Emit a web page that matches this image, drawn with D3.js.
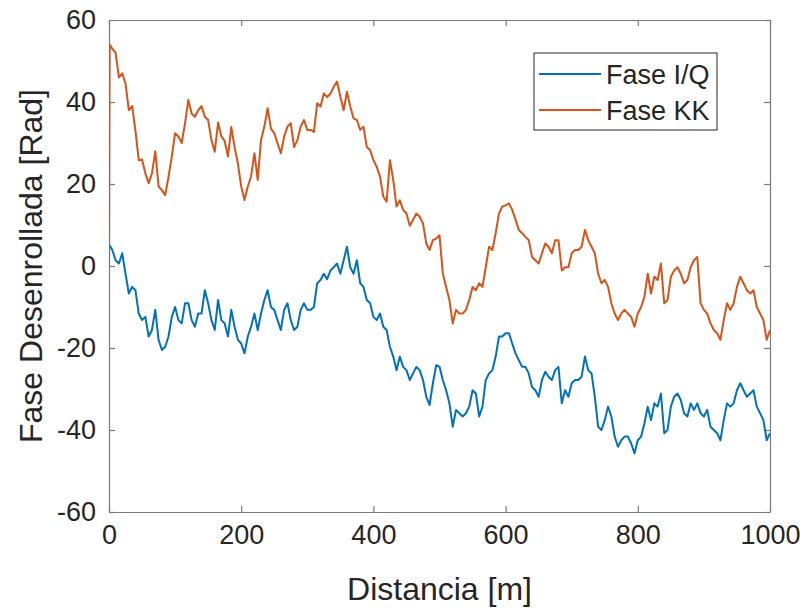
<!DOCTYPE html>
<html>
<head>
<meta charset="utf-8">
<script src="https://cdn.jsdelivr.net/npm/d3@7/dist/d3.min.js"></script>
<style>
  body { margin: 0; background: #fff; }
  text { font-family: "Liberation Sans", Arial, Helvetica, sans-serif; fill: #262626; }
</style>
</head>
<body>
<div id="chart"></div>
<script>
// distance samples (m): 0, 1, then every 5 m
var distancia = [0, 1].concat(d3.range(5, 1001, 5));

// Fase KK (orange)
var faseKK = [-1, 54,
  53, 52, 46, 47, 44.5, 38, 39, 33, 25.8, 26,
  22.6, 20.2, 22.6, 28, 19.4, 18.5, 17.3, 21.7, 26.7, 32.4,
  31.6, 30, 34.8, 40.5, 37.2, 36.4, 38, 39, 36.4, 35.6,
  30.7, 27.9, 35, 31.6, 30.5, 26.7, 33.9, 29, 25, 19.4,
  16.1, 19.4, 21.9, 27.5, 21, 30.7, 34, 38.5, 33.5, 32.4,
  29.9, 27.5, 31.6, 34, 34.8, 29, 30.7, 34, 35.6, 33.2,
  33.2, 32.7, 39.7, 38.9, 42.1, 41.2, 42, 43.7, 45, 41.3,
  38, 42.5, 38.9, 36, 35.6, 33.2, 34, 29, 28.3, 25.8,
  24.2, 21.8, 16.9, 15.7, 25.8, 21, 14.5, 16, 13.7, 12.8,
  9.8, 11.3, 12.8, 12, 10.4, 5.5, 3.9, 6.3, 6.7, 7.5,
  -1.8, -5.1, -8.3, -14, -10.7, -11.6, -11.6, -10.7, -8.3, -5.1,
  -5.9, -4.2, -5.1, -0.3, 4.7, 3.9, 8, 12.8, 14.5, 14.8,
  15.3, 13.7, 11.3, 8.8, 8, 7.1, 6.3, 2.2, 1.4, 0.6,
  3.1, 5.5, 4.7, 3.1, 6.3, 6.3, -1.1, -0.3, -0.3, 3.1,
  3.9, 3.9, 4.7, 8.8, 6.3, 4.7, 3.1, -1.9, -4.2, -3.4,
  -5.1, -9.1, -11.6, -13.2, -11.6, -10.7, -11.6, -12.4, -14.8, -11.6,
  -10, -7.5, -1.9, -6.7, -2.6, -3.4, 0.6, -9.1, -8.3, -2.6,
  -1.1, -0.3, -1.9, -4.2, -3.4, -0.3, 1.4, 2.2, -9.1, -10.7,
  -11.6, -14, -15.6, -16.4, -18, -13.2, -9.1, -10.7, -9.1, -5.1,
  -2.6, -4.2, -5.9, -6.7, -5.9, -10, -11.6, -13.2, -18, -15.6];

// Fase I/Q (blue)
var faseIQ = [4.7, 5,
  3.9, 1.4, 0.6, 3.1, -1.9, -6.7, -5.1, -5.9, -11.6, -13.2,
  -12.4, -17.2, -15.6, -10.7, -18, -20.5, -19.7, -17.2, -12.4, -10,
  -13.2, -14, -9.1, -9.1, -13.2, -14.8, -11.6, -11.6, -5.9, -9.1,
  -13.2, -15.6, -8.3, -13.2, -14, -17.2, -10.7, -14.8, -18, -18.9,
  -21.3, -17.2, -14.8, -11.6, -15.6, -11.6, -8.3, -5.9, -10, -10.7,
  -13.2, -15.6, -10.7, -9.1, -13.2, -15.6, -14.8, -10.7, -9.1, -10.7,
  -10.7, -10, -4.2, -3.4, -1.9, -3.2, -1.1, -0.3, 0.6, -1.9,
  1.4, 4.7, -0.3, -1.9, 1.4, -4.2, -5.1, -8.3, -9.1, -12.4,
  -13.2, -11.6, -14.8, -15.6, -19.7, -22.1, -25.4, -22.1, -24.6, -25.4,
  -27.8, -26.2, -24.6, -25.4, -27.8, -31.9, -33.9, -28.6, -24.2, -24.6,
  -27.8, -30.3, -33.5, -39.2, -35.1, -35.9, -36.7, -35.9, -34.3, -30.3,
  -31.1, -36.7, -34.3, -27.8, -26.2, -25.4, -22.1, -17.2, -17.2, -16.4,
  -16.4, -18.9, -21.3, -23, -24.6, -24.6, -26.2, -29.5, -30.3, -31.9,
  -27.8, -25.8, -27, -27.8, -25.4, -24.6, -33.5, -30.3, -31.9, -28.6,
  -27.8, -27.8, -27, -22.1, -25.4, -26.2, -31.9, -39.2, -40, -37.6,
  -34.3, -36.7, -41.6, -44.1, -42.5, -41.6, -41.6, -43.3, -45.7, -42.5,
  -41.6, -38.4, -34.3, -37.6, -33.5, -34.3, -31.1, -40.8, -40, -34.3,
  -31.9, -31.1, -32.7, -35.9, -36.7, -33.5, -35.1, -33.5, -35.9, -36.7,
  -35.1, -39.2, -40, -40.8, -42.5, -37.6, -33.5, -34.3, -33.5, -30.3,
  -28.6, -30.3, -31.9, -31.1, -30.3, -34.3, -35.9, -37.6, -42.5, -40.8];

var xTicks = [0, 200, 400, 600, 800, 1000];
var yTicks = [-60, -40, -20, 0, 20, 40, 60];
var seriesNames = ["Fase I/Q", "Fase KK"];
var seriesColors = ["#0072BD", "#D95319"];

var width = 806, height = 609;
var margin = { top: 20, right: 36, bottom: 97, left: 109 };
var plotW = width - margin.left - margin.right,
    plotH = height - margin.top - margin.bottom;

var svg = d3.select("#chart")
            .append("svg")
            .attr("width", width)
            .attr("height", height);

svg.append("rect").attr("width", width).attr("height", height).attr("fill", "#fff");

var x = d3.scaleLinear().domain([0, 1000]).range([0, plotW]);
var y = d3.scaleLinear().domain([-60, 60]).range([plotH, 0]);

var g = svg.append("g").attr("transform", "translate(" + margin.left + "," + margin.top + ")");

g.append("clipPath").attr("id", "clip")
  .append("rect").attr("width", plotW).attr("height", plotH);

var fmt = function(d) { return String(d); };

// axes, ticks pointing inward on all four sides
var axBottom = g.append("g").attr("transform", "translate(0," + plotH + ")")
  .call(d3.axisBottom(x).tickValues(xTicks).tickSizeInner(-6).tickSizeOuter(0).tickPadding(13).tickFormat(fmt));
var axLeft = g.append("g")
  .call(d3.axisLeft(y).tickValues(yTicks).tickSizeInner(-6).tickSizeOuter(0).tickPadding(13).tickFormat(fmt));
var axTop = g.append("g")
  .call(d3.axisTop(x).tickValues(xTicks).tickSizeInner(-6).tickSizeOuter(0).tickFormat(""));
var axRight = g.append("g").attr("transform", "translate(" + plotW + ",0)")
  .call(d3.axisRight(y).tickValues(yTicks).tickSizeInner(-6).tickSizeOuter(0).tickFormat(""));

[axBottom, axLeft, axTop, axRight].forEach(function(a) {
  a.selectAll(".domain").attr("stroke", "#7a7a7a").attr("stroke-width", 1.2);
  a.selectAll(".tick line").attr("stroke", "#7a7a7a").attr("stroke-width", 1.2);
  a.selectAll(".tick text").attr("font-size", 27).attr("fill", "#262626")
    .attr("font-family", "'Liberation Sans', Arial, sans-serif");
});

// lines
var series = [faseIQ, faseKK];
var line = d3.line()
  .x(function(d, i) { return x(distancia[i]); })
  .y(function(d) { return y(d); });

g.append("g").attr("clip-path", "url(#clip)")
  .selectAll("path.serie")
  .data(series)
  .enter()
  .append("path")
  .attr("class", "serie")
  .attr("d", line)
  .attr("fill", "none")
  .attr("stroke", function(d, i) { return seriesColors[i]; })
  .attr("stroke-width", 2)
  .attr("stroke-linejoin", "round");

// axis labels
svg.append("text")
  .attr("x", margin.left + plotW / 2)
  .attr("y", 600)
  .attr("text-anchor", "middle")
  .attr("font-size", 32)
  .text("Distancia [m]");

svg.append("text")
  .attr("transform", "translate(42," + (margin.top + plotH / 2) + ") rotate(-90)")
  .attr("text-anchor", "middle")
  .attr("font-size", 32)
  .text("Fase Desenrollada [Rad]");

// legend
var legend = svg.append("g").attr("transform", "translate(534,53)");
legend.append("rect")
  .attr("width", 183).attr("height", 77)
  .attr("fill", "#fff").attr("stroke", "#262626").attr("stroke-width", 1);

var items = legend.selectAll("g.item")
  .data(seriesNames)
  .enter()
  .append("g")
  .attr("class", "item")
  .attr("transform", function(d, i) { return "translate(0," + (21 + i * 36) + ")"; });

items.append("line")
  .attr("x1", 5).attr("x2", 67)
  .attr("stroke", function(d, i) { return seriesColors[i]; })
  .attr("stroke-width", 2);

items.append("text")
  .attr("x", 72).attr("dy", "0.36em")
  .attr("font-size", 27)
  .text(function(d) { return d; });
</script>
</body>
</html>
